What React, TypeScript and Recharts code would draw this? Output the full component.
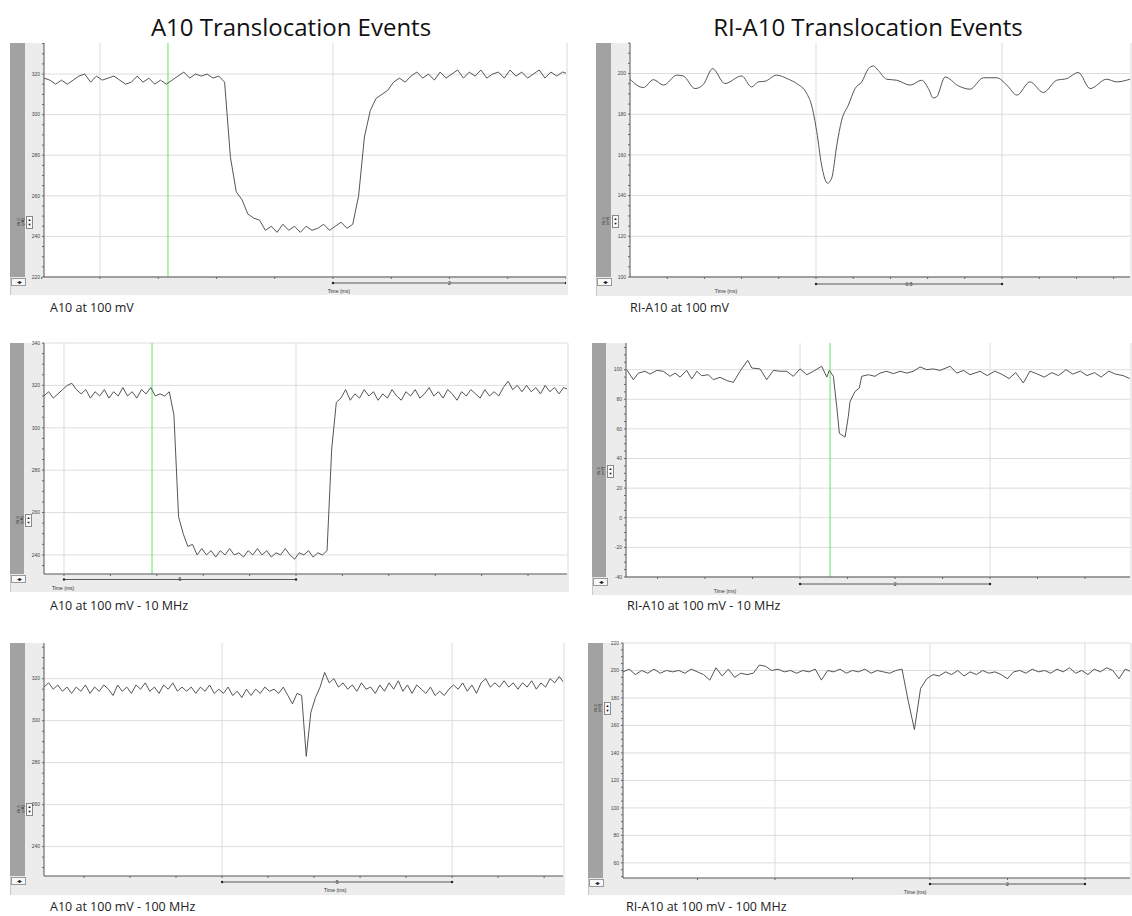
import { LineChart, Line, XAxis, YAxis, CartesianGrid, ReferenceLine, ReferenceDot } from 'recharts';

// --- trace data (current / voltage) ---

// A10 at 100 mV, sampled every 0.05 ms from 0.52 ms
const a10Start = 0.52;
const a10Step = 0.05;
const a10Current = [
  318, 317, 315, 317, 315, 317, 319, 320, 316, 319, 317, 318, 319, 317, 315, 316, 319, 316, 318, 315,
  317, 315, 317, 319, 321, 318, 320, 319, 320, 318, 319, 316, 279, 262, 258, 251, 249, 248, 243, 245,
  242, 246, 243, 245, 242, 245, 243, 244, 246, 243, 245, 247, 244, 246, 260, 289, 302, 308, 310, 312,
  316, 318, 316, 319, 321, 318, 320, 317, 321, 318, 320, 322, 318, 321, 319, 322, 318, 320, 321, 318,
  322, 319, 321, 318, 320, 322, 318, 321, 319, 321, 320,
];

// A10 at 100 mV - 10 MHz, every 0.1 ms from 4.569 ms
const a10Mhz10Start = 4.569;
const a10Mhz10Step = 0.1;
const a10Mhz10Current = [
  315, 317, 314, 316, 318, 320, 321, 318, 316, 318, 314, 317, 315, 318, 314, 317, 315, 319, 315, 317,
  314, 318, 316, 319, 315, 316, 315, 317, 306, 258, 250, 244, 245, 240, 243, 240, 242, 239, 242, 240,
  243, 240, 241, 239, 242, 240, 243, 240, 242, 239, 241, 240, 243, 240, 238, 241, 240, 242, 239, 241,
  240, 242, 290, 312, 314, 318, 313, 316, 314, 318, 315, 317, 313, 316, 314, 318, 315, 313, 317, 315,
  318, 314, 316, 319, 315, 317, 314, 318, 316, 313, 317, 315, 318, 316, 314, 318, 315, 317, 315, 319,
  322, 318, 320, 317, 320, 317, 319, 316, 320, 317, 319, 316, 319, 318,
];

// A10 at 100 mV - 100 MHz, every 0.1 ms from 1.13 ms
const a10Mhz100Start = 1.13;
const a10Mhz100Step = 0.1;
const a10Mhz100Current = [
  316, 318, 315, 317, 314, 316, 313, 316, 314, 317, 313, 316, 314, 317, 315, 312, 317, 314, 316, 313,
  317, 315, 318, 314, 316, 313, 317, 315, 318, 314, 316, 314, 316, 313, 316, 314, 317, 313, 315, 313,
  316, 312, 314, 311, 315, 312, 315, 313, 316, 314, 315, 313, 316, 312, 308, 313, 312, 283, 304, 311,
  316, 323, 318, 320, 316, 318, 315, 317, 314, 318, 315, 316, 313, 317, 314, 318, 315, 319, 314, 317,
  313, 317, 315, 313, 316, 312, 314, 312, 315, 317, 315, 318, 314, 317, 313, 318, 320, 316, 318, 316,
  319, 316, 318, 315, 318, 316, 319, 315, 318, 316, 320, 318, 321, 318, 319,
];

// RI-A10 at 100 mV (ms, mV)
const riTimes = [
  0, 0.036, 0.063, 0.09, 0.126, 0.143, 0.175, 0.197, 0.222, 0.255, 0.3, 0.327, 0.345, 0.363, 0.394,
  0.426, 0.448, 0.475, 0.488, 0.502, 0.515, 0.531, 0.542, 0.556, 0.569, 0.587, 0.605, 0.623, 0.641,
  0.654, 0.667, 0.69, 0.717, 0.753, 0.784, 0.802, 0.815, 0.824, 0.847, 0.883, 0.914, 0.95, 0.986,
  1.013, 1.04, 1.075, 1.111, 1.147, 1.174, 1.205, 1.237, 1.281, 1.308, 1.344,
];
const riVoltage = [
  197.2, 193.1, 197.0, 194.3, 199.2, 198.8, 192.6, 194.6, 202.4, 195.1, 198.8, 193.4, 195.9, 196.2,
  199.2, 197.2, 195.1, 190.2, 184.5, 171.4, 155.0, 146.1, 148.5, 164.9, 177.1, 184.5, 192.6, 195.9,
  202.4, 203.7, 201.6, 197.2, 196.7, 194.3, 196.7, 192.6, 188.0, 188.5, 198.3, 193.9, 192.3, 197.9,
  197.9, 194.3, 189.4, 195.9, 190.7, 196.7, 197.5, 200.5, 192.6, 197.2, 195.9, 197.2,
];

// RI-A10 at 100 mV - 10 MHz (ms, mV)
const riMhz10Times = [
  0.176, 0.245, 0.298, 0.368, 0.421, 0.492, 0.561, 0.632, 0.684, 0.737, 0.807, 0.86, 0.913, 0.965,
  1.035, 1.087, 1.158, 1.228, 1.298, 1.368, 1.449, 1.492, 1.579, 1.649, 1.719, 1.789, 1.86, 1.929,
  2.0, 2.071, 2.14, 2.228, 2.281, 2.308, 2.351, 2.386, 2.414, 2.474, 2.508, 2.526, 2.579, 2.624,
  2.649, 2.719, 2.789, 2.842, 2.913, 2.982, 3.053, 3.123, 3.193, 3.263, 3.334, 3.403, 3.474, 3.579,
  3.649, 3.719, 3.789, 3.895, 3.97, 4.05, 4.12, 4.2, 4.27, 4.35, 4.42, 4.5, 4.57, 4.65, 4.72, 4.8,
  4.87, 4.95, 5.02, 5.1, 5.17, 5.25, 5.32, 5.4, 5.47,
];
const riMhz10Voltage = [
  100, 93.2, 97.7, 98.9, 97, 99.5, 98.9, 95.5, 97.7, 95, 99.5, 93.7, 98.9, 95.9, 96.6, 93.2, 94.8,
  92.7, 91.4, 98.9, 106.3, 101.1, 100.5, 93.2, 99.5, 98.9, 98.9, 95.5, 100.5, 96.6, 98.9, 102.3, 95,
  99.5, 95.5, 75, 57, 54.4, 68.3, 78.5, 85.3, 87.6, 95.5, 96.6, 95.5, 97.7, 98.9, 97.3, 98.9, 97.7,
  98.9, 101.8, 100, 100.5, 99.5, 102.3, 97.7, 99.5, 96.6, 98.9, 96, 99, 97, 94, 98, 91, 99, 97, 95,
  98, 96, 100, 97, 99, 96, 98, 95, 99, 97, 96, 94,
];

// RI-A10 at 100 mV - 100 MHz, every 0.08 ms from 0.039 ms
const riMhz100Start = 0.039;
const riMhz100Step = 0.08;
const riMhz100Voltage = [
  199, 201, 197, 200, 198, 201, 198, 200, 199, 200, 198, 201, 199, 197, 193, 202, 196, 201, 195, 198,
  197, 198, 204, 203, 200, 201, 199, 200, 198, 200, 199, 201, 193, 200, 199, 201, 198, 200, 199, 201,
  198, 200, 199, 198, 200, 201, 178, 157, 187, 194, 197, 196, 199, 197, 200, 196, 199, 197, 200, 198,
  199, 197, 194, 199, 200, 198, 201, 199, 200, 198, 201, 199, 202, 198, 200, 197, 201, 199, 202, 200,
  194, 201, 199,
];

type Point = { t: number; v: number };

const sampled = (start: number, step: number, values: number[]): Point[] =>
  values.map((v, i) => ({ t: +(start + i * step).toFixed(4), v }));
const paired = (times: number[], values: number[]): Point[] =>
  times.map((t, i) => ({ t, v: values[i] }));

const steps = (from: number, to: number, step: number) => {
  const out: number[] = [];
  for (let k = 0; from + k * step <= to + 1e-9; k++) out.push(+(from + k * step).toFixed(4));
  return out;
};

type Box = {
  barLeft: number; barRight: number; plotLeft: number; plotRight: number;
  top: number; plotBottom: number; bottom: number; labelY: number;
  captionX: number; captionY: number;
};

type PanelSpec = {
  data: Point[];
  xDomain: [number, number];
  xTickStep: number;
  xTickFrom: number;
  gridX: number[];
  yDomain: [number, number];
  yMajor: number[];
  yMinorStep: number;
  cursor?: number;
  scale: [number, number];
  scaleLabel: string;
  scaleOffset: number;
  timeLabelAt: number;
  smooth?: boolean;
  unit: string;
  caption: string;
  box: Box;
};

const panels: PanelSpec[] = [
  {
    data: sampled(a10Start, a10Step, a10Current),
    xDomain: [0.52, 5.0], xTickFrom: 0.5, xTickStep: 0.5, gridX: [1, 3],
    yDomain: [220, 335.3], yMajor: [220, 240, 260, 280, 300, 320], yMinorStep: 5,
    cursor: 1.584, scale: [3, 5], scaleLabel: '2', scaleOffset: 6, timeLabelAt: 3.05,
    unit: '(pA)', caption: 'A10 at 100 mV',
    box: { barLeft: 10, barRight: 25, plotLeft: 44, plotRight: 566, top: 43, plotBottom: 277, bottom: 295, labelY: 222, captionX: 50, captionY: 308 },
  },
  {
    data: sampled(a10Mhz10Start, a10Mhz10Step, a10Mhz10Current),
    xDomain: [4.569, 15.84], xTickFrom: 5, xTickStep: 1, gridX: [5, 10],
    yDomain: [231, 340], yMajor: [240, 260, 280, 300, 320, 340], yMinorStep: 5,
    cursor: 6.897, scale: [5, 10], scaleLabel: '5', scaleOffset: 5.5, timeLabelAt: 4.98,
    unit: '(pA)', caption: 'A10 at 100 mV - 10 MHz',
    box: { barLeft: 10, barRight: 24, plotLeft: 44, plotRight: 567, top: 343, plotBottom: 574, bottom: 592, labelY: 520, captionX: 50, captionY: 606 },
  },
  {
    data: sampled(a10Mhz100Start, a10Mhz100Step, a10Mhz100Current),
    xDomain: [1.13, 12.41], xTickFrom: 2, xTickStep: 1, gridX: [5, 10],
    yDomain: [226, 337], yMajor: [240, 260, 280, 300, 320], yMinorStep: 5,
    scale: [5, 10], scaleLabel: '5', scaleOffset: 6, timeLabelAt: 7.46,
    unit: '(pA)', caption: 'A10 at 100 mV - 100 MHz',
    box: { barLeft: 10, barRight: 25, plotLeft: 44, plotRight: 563, top: 643, plotBottom: 876, bottom: 895, labelY: 809, captionX: 50, captionY: 907 },
  },
  {
    data: paired(riTimes, riVoltage),
    xDomain: [0, 1.344], xTickFrom: 0.1, xTickStep: 0.1, gridX: [0.5, 1.0],
    yDomain: [100, 215], yMajor: [100, 120, 140, 160, 180, 200], yMinorStep: 5,
    scale: [0.5, 1.0], scaleLabel: '0.5', scaleOffset: 7, timeLabelAt: 0.258, smooth: true,
    unit: '(mV)', caption: 'RI-A10 at 100 mV',
    box: { barLeft: 596, barRight: 611, plotLeft: 630, plotRight: 1130, top: 43, plotBottom: 277, bottom: 296, labelY: 221, captionX: 630, captionY: 308 },
  },
  {
    data: paired(riMhz10Times, riMhz10Voltage),
    xDomain: [0.168, 5.473], xTickFrom: 0.5, xTickStep: 0.5, gridX: [2, 4],
    yDomain: [-40, 118], yMajor: [-40, -20, 0, 20, 40, 60, 80, 100], yMinorStep: 5,
    cursor: 2.316, scale: [2, 4], scaleLabel: '2', scaleOffset: 7, timeLabelAt: 1.21,
    unit: '(mV)', caption: 'RI-A10 at 100 mV - 10 MHz',
    box: { barLeft: 592, barRight: 606, plotLeft: 626, plotRight: 1130, top: 343, plotBottom: 577, bottom: 595, labelY: 471, captionX: 627, captionY: 606 },
  },
  {
    data: sampled(riMhz100Start, riMhz100Step, riMhz100Voltage),
    xDomain: [0.039, 6.581], xTickFrom: 1, xTickStep: 1, gridX: [2, 4, 6],
    yDomain: [49, 220], yMajor: [60, 80, 100, 120, 140, 160, 180, 200, 220], yMinorStep: 5,
    scale: [4, 6], scaleLabel: '2', scaleOffset: 6, timeLabelAt: 3.81,
    unit: '(mV)', caption: 'RI-A10 at 100 mV - 100 MHz',
    box: { barLeft: 588, barRight: 603, plotLeft: 623, plotRight: 1130, top: 643, plotBottom: 878, bottom: 895, labelY: 708, captionX: 626, captionY: 907 },
  },
];

const tinyFont = '"Liberation Sans", Arial, sans-serif';
const headroom = 3; // room above the plot so the top tick label is not clipped

function TracePanel({ p }: { p: PanelSpec }) {
  const b = p.box;
  const width = b.plotRight - b.barLeft;
  const height = b.bottom - b.top;
  const plotH = b.plotBottom - b.top;
  const perPx = (p.yDomain[1] - p.yDomain[0]) / plotH;
  const barY = p.yDomain[0] - p.scaleOffset * perPx;
  const labelY = p.yDomain[0] - 14 * perPx;
  const firstMinor = Math.ceil(p.yDomain[0] / p.yMinorStep) * p.yMinorStep;
  const yTicks = steps(firstMinor, p.yDomain[1], p.yMinorStep);
  const xTicks = steps(p.xTickFrom, p.xDomain[1], p.xTickStep);

  return (
    <>
      {/* frame: light panel, dark side bar */}
      <div style={{ position: 'absolute', left: b.barLeft, top: b.top, width: width + 2, height, background: '#ececec', borderLeft: '1px solid #c8c8c8', boxSizing: 'border-box' }} />
      <div style={{ position: 'absolute', left: b.barLeft, top: b.top, width: b.barRight - b.barLeft, height: plotH, background: '#a2a2a2' }} />
      <div style={{ position: 'absolute', left: b.barRight - 9, top: b.labelY - 10, width: 9, height: 20, display: 'flex', alignItems: 'center', justifyContent: 'center' }}>
        <div style={{ transform: 'rotate(-90deg)', fontSize: 4, lineHeight: '4px', whiteSpace: 'nowrap', textAlign: 'center', color: '#333', fontFamily: tinyFont }}>
          IN 0<br />{p.unit}
        </div>
      </div>
      <div style={{ position: 'absolute', left: b.barRight + 1, top: b.labelY - 6, width: 5, height: 11, background: '#fafafa', border: '0.5px solid #888', fontSize: 4, lineHeight: '5px', textAlign: 'center', color: '#111', fontFamily: tinyFont }}>
        ▲<br />▼
      </div>
      <div style={{ position: 'absolute', left: b.barLeft + 1, top: b.plotBottom + 1, width: 13, height: 6, background: '#f8f8f8', border: '0.5px solid #999', fontSize: 6, lineHeight: '6px', textAlign: 'center', color: '#222', fontFamily: tinyFont, letterSpacing: -1 }}>
        ◂▸
      </div>
      <div style={{ position: 'absolute', left: b.barLeft, top: b.top - headroom }}>
        <LineChart width={width} height={height + headroom} data={p.data} margin={{ top: headroom, right: 0, bottom: 0, left: 0 }}>
          <CartesianGrid
            fill="#ffffff"
            fillOpacity={1}
            stroke="#dddddd"
            horizontalValues={p.yMajor}
            verticalValues={p.gridX}
          />
          <XAxis
            dataKey="t"
            type="number"
            domain={p.xDomain}
            allowDataOverflow
            ticks={xTicks}
            tickFormatter={() => ''}
            height={b.bottom - b.plotBottom}
            tickSize={2}
            stroke="#555"
            tickLine={{ stroke: '#666' }}
          />
          <YAxis
            type="number"
            domain={p.yDomain}
            allowDataOverflow
            ticks={yTicks}
            interval={0}
            width={b.plotLeft - b.barLeft}
            tickSize={2}
            tickMargin={2}
            stroke="#555"
            tickLine={{ stroke: '#666' }}
            tick={{ fontSize: 5, fill: '#444', fontFamily: tinyFont }}
            tickFormatter={(v: number) => (p.yMajor.includes(v) ? String(v) : '')}
          />
          {p.cursor !== undefined && (
            <ReferenceLine x={p.cursor} stroke="#5ee85e" strokeWidth={1} />
          )}
          <ReferenceLine
            segment={[{ x: p.scale[0], y: barY }, { x: p.scale[1], y: barY }]}
            ifOverflow="visible"
            stroke="#333"
            strokeWidth={0.8}
            label={{ value: p.scaleLabel, position: 'center', fontSize: 5, fill: '#333', fontFamily: tinyFont }}
          />
          <ReferenceDot x={p.scale[0]} y={barY} r={1.2} fill="#222" stroke="none" ifOverflow="visible" />
          <ReferenceDot x={p.scale[1]} y={barY} r={1.2} fill="#222" stroke="none" ifOverflow="visible" />
          <ReferenceDot
            x={p.timeLabelAt}
            y={labelY}
            r={0}
            fill="none"
            stroke="none"
            ifOverflow="visible"
            label={{ value: 'Time (ms)', position: 'center', fontSize: 5, fill: '#333', fontFamily: tinyFont }}
          />
          <Line
            type={p.smooth ? 'monotone' : 'linear'}
            dataKey="v"
            stroke="#555555"
            strokeWidth={1}
            dot={false}
            activeDot={false}
            isAnimationActive={false}
          />
        </LineChart>
      </div>
      <div style={{ position: 'absolute', left: b.captionX, top: b.captionY - 9, fontSize: 12.5, lineHeight: '18px', color: '#222', fontFamily: '"Open Sans", sans-serif', whiteSpace: 'nowrap' }}>
        {p.caption}
      </div>
    </>
  );
}

export default function App() {
  const titleStyle: React.CSSProperties = {
    position: 'absolute',
    top: 11,
    width: 500,
    textAlign: 'center',
    fontSize: 24,
    lineHeight: '32px',
    color: '#111',
    fontFamily: '"Open Sans", sans-serif',
  };
  return (
    <div style={{ position: 'absolute', left: 0, top: 0, width: 1132, height: 916, background: '#fff', overflow: 'hidden' }}>
      <div style={{ ...titleStyle, left: 291 - 250 }}>A10 Translocation Events</div>
      <div style={{ ...titleStyle, left: 868 - 250 }}>RI-A10 Translocation Events</div>
      {panels.map((p, i) => (
        <TracePanel key={i} p={p} />
      ))}
    </div>
  );
}
